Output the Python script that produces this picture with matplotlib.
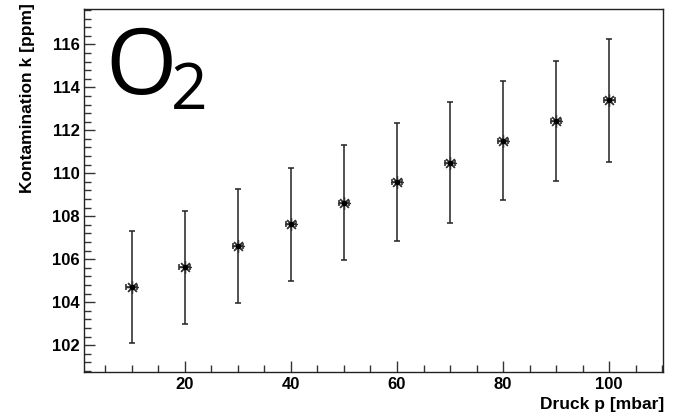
import numpy as np
import matplotlib.pyplot as plt
from matplotlib.ticker import MultipleLocator

# Messwerte: Druck und Kontamination mit Fehlern
druck = [10, 20, 30, 40, 50, 60, 70, 80, 90, 100]
kontamination = [104.72, 105.62, 106.61, 107.62, 108.63, 109.60, 110.50, 111.52, 112.43, 113.40]
fehler_k = [2.60, 2.63, 2.66, 2.64, 2.68, 2.75, 2.82, 2.78, 2.80, 2.86]
fehler_p = [1.0] * len(druck)

plt.rcParams['font.family'] = ['Liberation Sans', 'DejaVu Sans']
plt.rcParams['mathtext.fontset'] = 'custom'
plt.rcParams['mathtext.rm'] = 'Open Sans'

fig = plt.figure(figsize=(6.77, 4.17), dpi=100)
ax = fig.add_axes([0.124, 0.107, 0.855, 0.871])

ax.errorbar(druck, kontamination, yerr=fehler_k, xerr=fehler_p,
            fmt='none', ecolor='#222222', elinewidth=1.1, capsize=2.2, capthick=1.1)
ax.plot(druck, kontamination, linestyle='none', marker=(8, 2, 0), markersize=9,
        markeredgecolor='#333333', markeredgewidth=0.9)
ax.plot(druck, kontamination, linestyle='none', marker='o', markersize=3,
        color='black')

ax.set_xlim(1, 110.1)
ax.set_ylim(100.73, 117.64)

ax.xaxis.set_major_locator(MultipleLocator(20))
ax.xaxis.set_minor_locator(MultipleLocator(5))
ax.yaxis.set_major_locator(MultipleLocator(2))
ax.yaxis.set_minor_locator(MultipleLocator(0.4))
ax.tick_params(which='both', direction='in', top=False, right=False,
               color='#333333', width=1)
ax.tick_params(which='major', length=8, labelsize=12, pad=3)
ax.tick_params(which='minor', length=5)
for lab in ax.get_xticklabels() + ax.get_yticklabels():
    lab.set_fontweight('bold')

for s in ax.spines.values():
    s.set_linewidth(1.0)
    s.set_color('#222222')

fig.text(0.981, 0.03, 'Druck p [mbar]', ha='right', va='center',
         fontsize=12.5, fontweight='bold')
fig.text(0.041, 0.993, 'Kontamination k [ppm]', ha='center', va='top',
         rotation=90, fontsize=12.5, fontweight='bold')

# grosse Beschriftung des Gases
fig.text(0.155, 0.772, r'$\mathrm{O}\hspace{-0.07}_{\mathrm{2}}$', fontsize=66,
         ha='left', va='baseline')

fig.savefig('out.png', dpi=100)
